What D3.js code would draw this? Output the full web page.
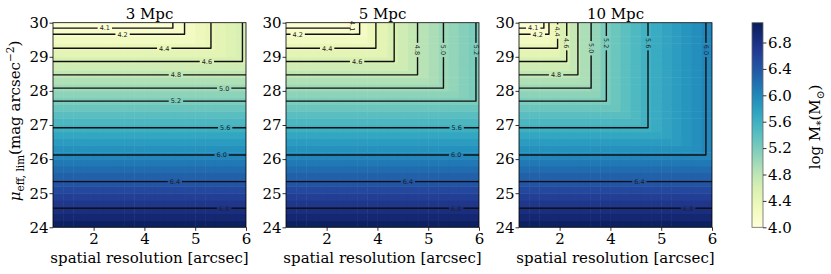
<!DOCTYPE html>
<html>
<head>
<meta charset="utf-8">
<script src="https://cdn.jsdelivr.net/npm/d3@7"></script>
<style>
  body { margin: 0; background: #fff; }
  svg { font-family: "DejaVu Serif", serif; }
</style>
</head>
<body>
<svg id="chart" width="831" height="274"></svg>
<script>
// Detection limit maps: log M* vs surface brightness limit and spatial resolution
const panelTitles = ["3 Mpc", "5 Mpc", "10 Mpc"];

// row centres (mag arcsec^-2) and the mass limit set by surface brightness alone
const muCenters = [24.1, 24.3, 24.5, 24.7, 24.9, 25.1, 25.3, 25.5, 25.7, 25.9,
                   26.1, 26.3, 26.5, 26.7, 26.9, 27.1, 27.3, 27.5, 27.7, 27.9,
                   28.1, 28.3, 28.5, 28.7, 28.9, 29.1, 29.3, 29.5, 29.7, 29.9];
const rowMass = [7.04, 6.94, 6.83, 6.73, 6.63, 6.53, 6.42, 6.32, 6.22, 6.12,
                 6.01, 5.91, 5.81, 5.71, 5.60, 5.50, 5.40, 5.30, 5.19, 5.09,
                 4.99, 4.89, 4.78, 4.68, 4.58, 4.47, 4.37, 4.27, 4.17, 4.06];

// column centres along the resolution axis (axis position units) and the mass floor per distance
const resCenters = [0.3, 0.5, 0.7, 0.9, 1.1, 1.3, 1.5, 1.7, 1.9, 2.1,
                    2.3, 2.5, 2.7, 2.9, 3.1, 3.3, 3.5, 3.7, 3.9];
const colMass3 = [2.56, 2.76, 2.94, 3.10, 3.25, 3.39, 3.52, 3.64, 3.76, 3.87,
                  3.97, 4.07, 4.16, 4.24, 4.32, 4.40, 4.46, 4.53, 4.59];
const colMass5 = [3.16, 3.36, 3.54, 3.70, 3.85, 3.98, 4.09, 4.23, 4.36, 4.47,
                  4.58, 4.67, 4.76, 4.84, 4.92, 5.00, 5.06, 5.13, 5.19];
const colMass10 = [3.65, 3.89, 4.11, 4.33, 4.56, 4.75, 4.91, 5.05, 5.19, 5.29,
                   5.39, 5.48, 5.58, 5.66, 5.73, 5.80, 5.87, 5.94, 6.01];

const resTickPos = [1, 2, 3, 4];
const resTickLabels = ["2", "4", "5", "6"];
const muTicks = [24, 25, 26, 27, 28, 29, 30];
const cbTicks = [4.0, 4.4, 4.8, 5.2, 5.6, 6.0, 6.4, 6.8];

// contour levels: where each runs horizontally (mu) and where it turns vertical (res)
const levels = [4.1, 4.2, 4.4, 4.6, 4.8, 5.0, 5.2, 5.6, 6.0, 6.4, 6.8];
const levelMu = [29.84, 29.66, 29.25, 28.86, 28.47, 28.08, 27.70, 26.92, 26.12, 25.34, 24.56];
const levelRes3 = [2.56, 2.79, 3.31, 3.93, null, null, null, null, null, null, null];
const levelRes5 = [1.51, 1.65, 1.97, 2.33, 2.79, 3.30, 3.94, null, null, null, null];
const levelRes10 = [0.69, 0.79, 0.96, 1.14, 1.36, 1.62, 1.92, 2.74, 3.88, null, null];

// inline label placement: on the horizontal ("h", res) or vertical ("v", mu) part
const labelSide3 = ["h", "h", "h", "h", "h", "h", "h", "h", "h", "h", "h"];
const labelPos3 = [1.22, 1.57, 2.39, 3.23, 2.62, 3.57, 2.62, 3.59, 3.52, 2.60, 3.57];
const labelSide5 = ["v", "h", "h", "h", "v", "v", "v", "h", "h", "h", "h"];
const labelPos5 = [29.9, 0.43, 1.01, 1.60, 29.2, 29.2, 29.2, 3.56, 3.55, 2.60, 3.55];
const labelSide10 = ["h", "h", "v", "v", "h", "v", "v", "v", "v", "h", "h"];
const labelPos10 = [0.48, 0.57, 29.74, 29.40, 0.93, 29.25, 29.40, 29.40, 29.2, 2.57, 3.53];

const colMass = [colMass3, colMass5, colMass10];
const levelRes = [levelRes3, levelRes5, levelRes10];
const labelSide = [labelSide3, labelSide5, labelSide10];
const labelPos = [labelPos3, labelPos5, labelPos10];

const panelLeft = [53, 286, 519];
const panelW = 193;
const plotTop = 22.7, plotBottom = 227.3;
const fs = 15;

const svg = d3.select("#chart");
const defs = svg.append("defs");

const color = d3.scaleSequential(d3.interpolateYlGnBu).domain([4.0, 7.1]);
const y = d3.scaleLinear().domain([24, 30]).range([plotBottom, plotTop]);

function styleAxis(g) {
    g.select(".domain").remove();
    g.selectAll(".tick line").attr("stroke", "#000").attr("stroke-width", 0.8);
    g.selectAll(".tick text")
        .attr("font-family", "DejaVu Serif")
        .attr("font-size", fs)
        .attr("fill", "#000");
}

panelTitles.forEach((title, p) => {
    const left = panelLeft[p];
    const x = d3.scaleLinear().domain([0.2, 4.0]).range([left, left + panelW]);

    defs.append("clipPath").attr("id", "clip" + p)
        .append("rect")
        .attr("x", left).attr("y", plotTop)
        .attr("width", panelW).attr("height", plotBottom - plotTop);

    // heatmap cells
    const cells = [];
    muCenters.forEach((mu, r) => {
        resCenters.forEach((u, c) => {
            cells.push({ mu, u, v: Math.max(rowMass[r], colMass[p][c]) });
        });
    });

    const g = svg.append("g").attr("clip-path", `url(#clip${p})`);
    g.selectAll("rect.cell")
        .data(cells)
        .join("rect")
        .attr("class", "cell")
        .attr("x", d => x(d.u - 0.1))
        .attr("y", d => y(d.mu + 0.1))
        .attr("width", d => x(d.u + 0.1) - x(d.u - 0.1) + 0.5)
        .attr("height", d => y(d.mu - 0.1) - y(d.mu + 0.1) + 0.5)
        .attr("fill", d => color(d.v));

    // mask that cuts gaps in the contour lines under the labels
    const mask = defs.append("mask").attr("id", "mask" + p)
        .attr("maskUnits", "userSpaceOnUse")
        .attr("x", 0).attr("y", 0).attr("width", 831).attr("height", 274);
    mask.append("rect")
        .attr("x", 0).attr("y", 0).attr("width", 831).attr("height", 274)
        .attr("fill", "#fff");

    const line = d3.line().x(d => x(d[0])).y(d => y(d[1]));
    const contourData = levels.map((lv, i) => {
        const r = levelRes[p][i], mu = levelMu[i];
        return r == null ? [[0.2, mu], [4.0, mu]] : [[0.2, mu], [r, mu], [r, 30]];
    });

    g.append("g")
        .attr("mask", `url(#mask${p})`)
        .selectAll("path")
        .data(contourData)
        .join("path")
        .attr("d", line)
        .attr("fill", "none")
        .attr("stroke", "#111")
        .attr("stroke-width", 1.4)
        .attr("stroke-linejoin", "round");

    // contour labels
    const lg = svg.append("g");
    levels.forEach((lv, i) => {
        const side = labelSide[p][i];
        const pos = labelPos[p][i];
        let cx, cy, rot;
        if (side === "h") {
            cx = x(pos); cy = y(levelMu[i]); rot = 0;
        } else {
            cx = x(levelRes[p][i]); cy = y(pos); rot = 90;
        }
        const t = lg.append("text")
            .attr("transform", `translate(${cx},${cy}) rotate(${rot})`)
            .attr("text-anchor", "middle")
            .attr("dy", "0.36em")
            .attr("font-family", "DejaVu Sans")
            .attr("font-size", 6.5)
            .attr("fill", "#222")
            .text(d3.format(".1f")(lv));
        const w = t.node().getComputedTextLength() + 4;
        if (rot === 0) {
            mask.append("rect").attr("x", cx - w / 2).attr("y", cy - 2)
                .attr("width", w).attr("height", 4).attr("fill", "#000");
        } else {
            mask.append("rect").attr("x", cx - 2).attr("y", cy - w / 2)
                .attr("width", 4).attr("height", w).attr("fill", "#000");
        }
    });

    // frame
    svg.append("rect")
        .attr("x", left).attr("y", plotTop)
        .attr("width", panelW).attr("height", plotBottom - plotTop)
        .attr("fill", "none").attr("stroke", "#000").attr("stroke-width", 0.8);

    // axes
    svg.append("g")
        .attr("transform", `translate(0,${plotBottom})`)
        .call(d3.axisBottom(x).tickValues(resTickPos)
            .tickFormat((d, i) => resTickLabels[i]).tickSize(3.5).tickPadding(3))
        .call(styleAxis);

    svg.append("g")
        .attr("transform", `translate(${left},0)`)
        .call(d3.axisLeft(y).tickValues(muTicks).tickFormat(d3.format("d"))
            .tickSize(3.5).tickPadding(1))
        .call(styleAxis);

    // title and x label
    svg.append("text")
        .attr("x", left + panelW / 2).attr("y", 18.5)
        .attr("text-anchor", "middle")
        .attr("font-size", fs)
        .text(title);

    svg.append("text")
        .attr("x", left + panelW / 2).attr("y", 263)
        .attr("text-anchor", "middle")
        .attr("font-size", fs)
        .text("spatial resolution [arcsec]");
});

// y label
const yl = svg.append("text")
    .attr("transform", "translate(20,121) rotate(-90)")
    .attr("text-anchor", "middle")
    .attr("font-size", fs);
yl.append("tspan").attr("font-style", "italic").text("μ");
yl.append("tspan").attr("font-size", 10.5).attr("dy", 3.5).text("eff, lim");
yl.append("tspan").attr("dy", -3.5).text("(mag arcsec");
yl.append("tspan").attr("font-size", 10.5).attr("dy", -6).text("−2");
yl.append("tspan").attr("dy", 6).text(")");

// colorbar
const cbX = 752, cbW = 11;
const cby = d3.scaleLinear().domain([4.0, 7.1]).range([plotBottom, plotTop]);
const grad = defs.append("linearGradient").attr("id", "cbgrad")
    .attr("x1", 0).attr("y1", 1).attr("x2", 0).attr("y2", 0);
grad.selectAll("stop")
    .data(d3.range(0, 1.0001, 0.05))
    .join("stop")
    .attr("offset", d => d)
    .attr("stop-color", d => color(4.0 + d * 3.1));

svg.append("rect")
    .attr("x", cbX).attr("y", plotTop)
    .attr("width", cbW).attr("height", plotBottom - plotTop)
    .attr("fill", "url(#cbgrad)")
    .attr("stroke", "#666").attr("stroke-width", 0.8);

svg.append("g")
    .attr("transform", `translate(${cbX + cbW},0)`)
    .call(d3.axisRight(cby).tickValues(cbTicks).tickFormat(d3.format(".1f"))
        .tickSize(3.5).tickPadding(1.5))
    .call(styleAxis);

const cl = svg.append("text")
    .attr("transform", "translate(820,127) rotate(-90)")
    .attr("text-anchor", "middle")
    .attr("font-size", fs);
cl.append("tspan").text("log M");
cl.append("tspan").attr("font-size", 10.5).attr("dy", 3.5).text("*");
cl.append("tspan").attr("dy", -3.5).text("(M");
cl.append("tspan").attr("font-size", 10.5).attr("dy", 3.5).text("⊙");
cl.append("tspan").attr("dy", -3.5).text(")");
</script>
</body>
</html>
